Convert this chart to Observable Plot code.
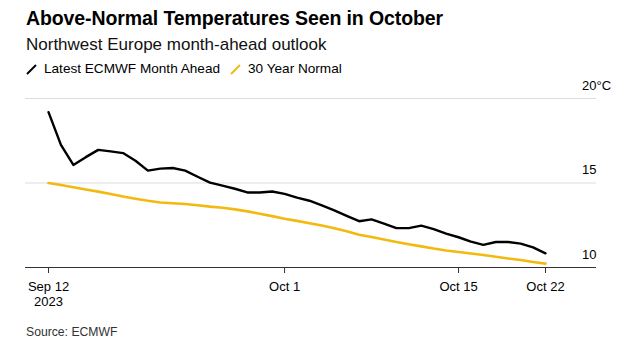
<!DOCTYPE html>
<html>
<head>
<meta charset="utf-8">
<script src="https://cdn.jsdelivr.net/npm/d3@7"></script>
<script src="https://cdn.jsdelivr.net/npm/@observablehq/plot@0.6"></script>
<style>
  html, body { margin: 0; padding: 0; background: #fff; }
  body { width: 631px; height: 350px; overflow: hidden; font-family: "Liberation Sans", Arial, sans-serif; color: #000; }
  #title { position: absolute; left: 26px; top: 7px; font-size: 19.5px; font-weight: bold; letter-spacing: -0.1px; }
  #subtitle { position: absolute; left: 26px; top: 35px; font-size: 17px; color: #111; }
  #legend { position: absolute; left: 26px; top: 61px; font-size: 13.6px; display: flex; align-items: center; }
  #legend .item { display: flex; align-items: center; margin-right: 10px; }
  #legend svg { margin-right: 7px; }
  #chart { position: absolute; left: 0; top: 78px; }
  #source { position: absolute; left: 26px; top: 325px; font-size: 12.2px; color: #333; }
</style>
</head>
<body>
<div id="title">Above-Normal Temperatures Seen in October</div>
<div id="subtitle">Northwest Europe month-ahead outlook</div>
<div id="legend">
  <div class="item"><svg width="11" height="12"><line x1="1" y1="11" x2="10" y2="2" stroke="#000" stroke-width="2"/></svg>Latest ECMWF Month Ahead</div>
  <div class="item"><svg width="11" height="12"><line x1="1" y1="11" x2="10" y2="2" stroke="#f2b90f" stroke-width="2"/></svg>30 Year Normal</div>
</div>
<div id="chart"></div>
<div id="source">Source: ECMWF</div>
<script>
// Daily dates Sep 12 – Oct 22, 2023
const dates = d3.utcDay.range(new Date(Date.UTC(2023, 8, 12)), new Date(Date.UTC(2023, 9, 23)));
const ecmwf = [19.19, 17.26, 16.07, 16.53, 16.96, 16.87, 16.77, 16.32, 15.73, 15.85,
               15.89, 15.73, 15.37, 15.02, 14.84, 14.66, 14.44, 14.44, 14.50, 14.36,
               14.13, 13.95, 13.68, 13.38, 13.06, 12.74, 12.85, 12.60, 12.33, 12.33,
               12.48, 12.27, 12.01, 11.79, 11.53, 11.34, 11.51, 11.51, 11.41, 11.19, 10.84];
const normal = [15.00, 14.88, 14.75, 14.62, 14.49, 14.35, 14.20, 14.07, 13.95, 13.85,
                13.80, 13.76, 13.68, 13.60, 13.54, 13.44, 13.32, 13.18, 13.04, 12.89,
                12.76, 12.62, 12.48, 12.32, 12.14, 11.94, 11.80, 11.66, 11.51, 11.38,
                11.25, 11.12, 11.01, 10.92, 10.83, 10.74, 10.64, 10.53, 10.44, 10.33, 10.23];
const xTickDates = [new Date(Date.UTC(2023, 8, 12)), new Date(Date.UTC(2023, 9, 1)),
                    new Date(Date.UTC(2023, 9, 15)), new Date(Date.UTC(2023, 9, 22))];
const xTickLabels = ["Sep 12\n2023", "Oct 1", "Oct 15", "Oct 22"];
const yTicks = [10, 15, 20];
const yUnit = "°C";

const ecmwfData = dates.map((d, i) => ({date: d, value: ecmwf[i]}));
const normalData = dates.map((d, i) => ({date: d, value: normal[i]}));

const chart = Plot.plot({
  width: 631,
  height: 234,
  marginTop: 20,
  marginBottom: 45,
  marginLeft: 25,
  marginRight: 35,
  insetLeft: 23,
  insetRight: 51,
  style: {fontFamily: "Liberation Sans, Arial, sans-serif", fontSize: "13px", color: "#000", background: "#fff"},
  x: {type: "utc", domain: [dates[0], dates[dates.length - 1]]},
  y: {domain: [10, 20]},
  marks: [
    Plot.ruleY(yTicks.filter(t => t !== 10), {stroke: "#dcdcdc", strokeWidth: 1}),
    Plot.line(normalData, {x: "date", y: "value", stroke: "#f2b90f", strokeWidth: 2.6, curve: "linear"}),
    Plot.line(ecmwfData, {x: "date", y: "value", stroke: "#000", strokeWidth: 2.4, curve: "linear"}),
    Plot.ruleY([10], {stroke: "#333", strokeWidth: 1}),
    Plot.axisX({
      ticks: xTickDates,
      tickFormat: d => xTickLabels[xTickDates.findIndex(t => +t === +d)],
      tickSize: 6,
      tickPadding: 6,
      stroke: "#333",
      fill: "#000",
      fontSize: 13,
      label: null,
      lineHeight: 1.2
    }),
    Plot.axisY({ticks: [], label: null}),
    Plot.text(yTicks, {y: d => d, text: d => String(d), frameAnchor: "right", textAnchor: "end", dy: -13, fontSize: 13, fill: "#000"}),
    Plot.text(yTicks.filter(t => t === 20), {y: d => d, text: () => yUnit, frameAnchor: "right", textAnchor: "start", dy: -13, fontSize: 13, fill: "#000"})
  ]
});
document.getElementById("chart").appendChild(chart);
</script>
</body>
</html>
